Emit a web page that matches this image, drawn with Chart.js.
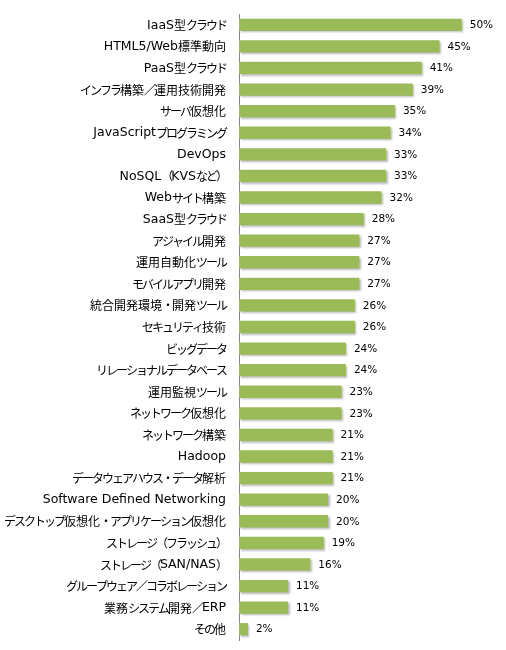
<!DOCTYPE html>
<html><head><meta charset="utf-8">
<script src="https://cdn.jsdelivr.net/npm/chart.js@4/dist/chart.umd.min.js"></script>
<style>html,body{margin:0;padding:0;background:#fff}#wrap{width:506px;height:650px}</style>
</head><body><div id="wrap"><canvas id="c" width="506" height="650"></canvas></div>
<script>
const categories = ["IaaS型クラウド","HTML5/Web標準動向","PaaS型クラウド","インフラ構築／運用技術開発","サーバ仮想化","JavaScriptプログラミング","DevOps","NoSQL（KVSなど）","Webサイト構築","SaaS型クラウド","アジャイル開発","運用自動化ツール","モバイルアプリ開発","統合開発環境・開発ツール","セキュリティ技術","ビッグデータ","リレーショナルデータベース","運用監視ツール","ネットワーク仮想化","ネットワーク構築","Hadoop","データウェアハウス・データ解析","Software Defined Networking","デスクトップ仮想化・アプリケーション仮想化","ストレージ（フラッシュ）","ストレージ（SAN/NAS）","グループウェア／コラボレーション","業務システム開発／ERP","その他"];
const values = [50,45,41,39,35,34,33,33,32,28,27,27,27,26,26,24,24,23,23,21,21,21,20,20,19,16,11,11,2];

const LATIN_FONT = '12.5px "DejaVu Sans", sans-serif';
const CJK_FONT = '12px "Noto Sans CJK JP", sans-serif';
const VALUE_FONT = '10.5px "DejaVu Sans", sans-serif';

function splitRuns(s) {
  const runs = [];
  for (const ch of s) {
    const code = ch.codePointAt(0);
    const type = code < 0x2000 ? 'latin' : (code >= 0x4e00 && code <= 0x9fff ? 'kanji' : 'kana');
    const last = runs[runs.length - 1];
    if (last && last.type === type) last.text += ch; else runs.push({ type, text: ch });
  }
  return runs;
}
function setRunFont(ctx, type) {
  const hasLS = 'letterSpacing' in ctx;
  if (type === 'latin') { ctx.font = LATIN_FONT; if (hasLS) ctx.letterSpacing = '0px'; }
  else if (type === 'kanji') { ctx.font = CJK_FONT; if (hasLS) ctx.letterSpacing = '0px'; }
  else { ctx.font = CJK_FONT; if (hasLS) ctx.letterSpacing = '-2px'; }
}

const shadowPlugin = {
  id: 'shadow',
  beforeDatasetsDraw(chart) {
    const ctx = chart.ctx; ctx.save();
    ctx.shadowColor = 'rgba(0,0,0,0.28)'; ctx.shadowBlur = 2; ctx.shadowOffsetX = 1.5; ctx.shadowOffsetY = 1.5;
  },
  afterDatasetsDraw(chart) { chart.ctx.restore(); }
};
const labelPlugin = {
  id: 'labels',
  afterDatasetsDraw(chart) {
    const ctx = chart.ctx; const meta = chart.getDatasetMeta(0);
    const yScale = chart.scales.y;
    ctx.save();
    ctx.fillStyle = '#000'; ctx.textBaseline = 'middle'; ctx.textAlign = 'left';
    // value labels
    ctx.font = VALUE_FONT;
    meta.data.forEach((bar, i) => { ctx.fillText(values[i] + '%', bar.x + 8, bar.y + 0.5); });
    // category labels
    const rightX = yScale.right - 13;
    categories.forEach((label, i) => {
      const y = yScale.getPixelForTick(i);
      const runs = splitRuns(label);
      let total = 0;
      runs.forEach(r => { setRunFont(ctx, r.type); r.w = ctx.measureText(r.text).width; total += r.w; });
      let x = rightX - total;
      runs.forEach(r => { setRunFont(ctx, r.type); ctx.fillText(r.text, x, y + 0.5); x += r.w; });
    });
    ctx.restore();
  }
};

new Chart(document.getElementById('c'), {
  type: 'bar',
  data: { labels: categories, datasets: [{ data: values, backgroundColor: '#9BBB59', borderWidth: 0, barPercentage: 0.57, categoryPercentage: 1 }] },
  options: {
    indexAxis: 'y', responsive: false, animation: false,
    layout: { padding: { top: 14, bottom: 10, left: 0, right: 22 } },
    plugins: { legend: { display: false }, tooltip: { enabled: false } },
    scales: {
      x: { display: false, min: 0, max: 55 },
      y: {
        afterFit(s) { s.width = 239; },
        grid: { display: false, drawTicks: false },
        border: { display: true, color: '#868686', width: 1 },
        ticks: { display: false, autoSkip: false }
      }
    }
  },
  plugins: [shadowPlugin, labelPlugin]
});
</script></body></html>
